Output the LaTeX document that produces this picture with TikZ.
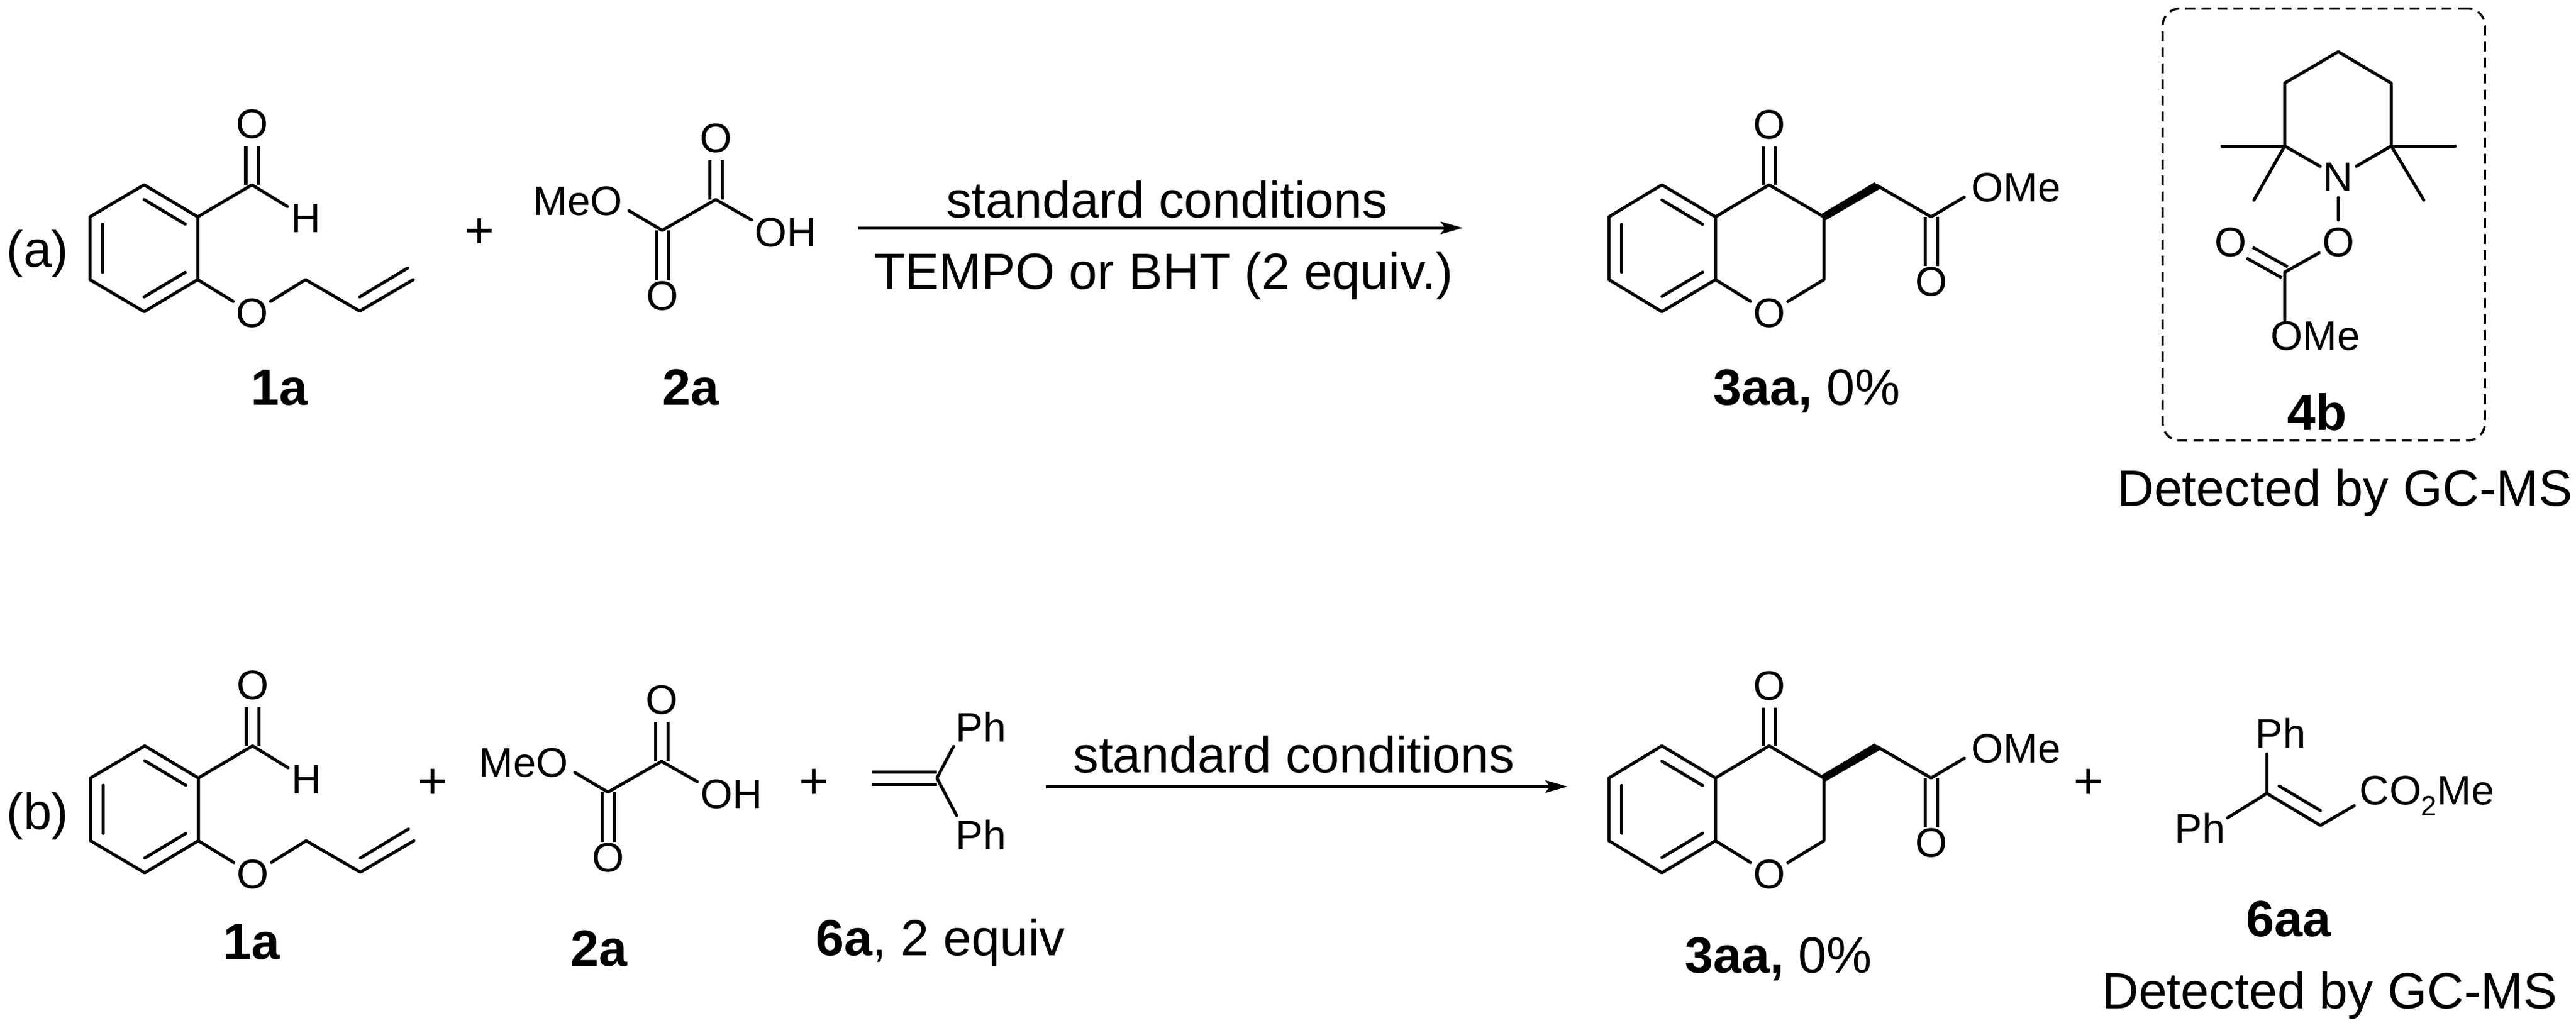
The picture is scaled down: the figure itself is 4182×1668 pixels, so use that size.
\documentclass[tikz,border=0pt]{standalone}
\usepackage{fontspec}
\setmainfont{Liberation Sans}
\usetikzlibrary{arrows.meta,calc}
\tikzset{
  bond/.style={line width=.05cm,line cap=round,line join=round},
  dbl/.style={line width=.05cm,double,double distance=.15cm},
  dblnear/.style={dbl,shorten >=-.11cm},
  atom/.style={circle,inner sep=0pt,minimum size=.7cm,font=\fontsize{19}{19}\selectfont},
  lab/.style={inner sep=0pt,font=\fontsize{19}{19}\selectfont},
  capt/.style={inner sep=0pt,anchor=base,font=\fontsize{23.5}{23.5}\selectfont},
  rxn/.style={line width=.05cm,-{Stealth[length=.36cm,width=.2cm,inset=.07cm]}},
  plus/.style={inner sep=0pt,font=\fontsize{23.5}{23.5}\selectfont}
}
% 2-allyloxybenzaldehyde
\newcommand{\aldehyde}{
  \coordinate (r1) at (234,300); \coordinate (r2) at (321,352); \coordinate (r3) at (321,454);
  \coordinate (r4) at (234,506); \coordinate (r5) at (146,454); \coordinate (r6) at (146,352);
  \coordinate (ctr) at (234,403);
  \coordinate (cho) at (409,300); \coordinate (ch2) at (496,454); \coordinate (vi1) at (584,505);
  \coordinate (vi2) at (671,454); \coordinate (in1) at (584,482); \coordinate (in2) at (662,435);
  \node[atom] (oald) at (409,201) {O};
  \node[atom] (hald) at (497,354) {H};
  \node[atom] (oeth) at (409,508) {O};
  \draw[dbl] (cho) -- (oald);
  \draw[bond] (r1) -- (r2) -- (r3) -- (r4) -- (r5) -- (r6) -- cycle;
  \draw[bond] ($(r1)!.233!(ctr)$) -- ($(r2)!.233!(ctr)$);
  \draw[bond] ($(r3)!.233!(ctr)$) -- ($(r4)!.233!(ctr)$);
  \draw[bond] ($(r5)!.233!(ctr)$) -- ($(r6)!.233!(ctr)$);
  \draw[bond] (r2) -- (cho) -- (hald);
  \draw[bond] (r3) -- (oeth) -- (ch2) -- (vi1) -- (vi2);
  \draw[bond] (in1) -- (in2);
}
% monomethyl oxalate
\newcommand{\oxalate}{
  \coordinate (c1) at (1075,374); \coordinate (c2) at (1162,324);
  \coordinate (meoend) at (1021,342); \coordinate (ohend) at (1220,357);
  \node[lab,anchor=east] (meo) at (1011,326) {MeO};
  \node[lab,anchor=west] (oh) at (1225,377) {OH};
  \node[atom] (o1) at (1075,480) {O};
  \node[atom] (o2) at (1162,224) {O};
  \draw[dblnear] (c1) -- (o1);
  \draw[dbl] (c2) -- (o2);
  \draw[bond] (meoend) -- (c1) -- (c2) -- (ohend);
}
% chromanone product
\newcommand{\chromanone}{
  \coordinate (r1) at (2698,300); \coordinate (r2) at (2785,352); \coordinate (r3) at (2785,454);
  \coordinate (r4) at (2698,506); \coordinate (r5) at (2612,454); \coordinate (r6) at (2612,352);
  \coordinate (ctr) at (2698,403);
  \coordinate (co) at (2872,300); \coordinate (c3) at (2961,352); \coordinate (c2) at (2961,454);
  \coordinate (ch2) at (3047,301); \coordinate (est) at (3135,352); \coordinate (omeend) at (3189,320);
  \coordinate (wa) at (3053,306); \coordinate (wb) at (3043,296);
  \coordinate (wc) at (2956,348); \coordinate (wd) at (2963,358);
  \node[atom] (ok) at (2872,202) {O};
  \node[atom] (or) at (2872,508) {O};
  \node[atom] (oe) at (3135,457) {O};
  \node[lab,anchor=west] (ome) at (3200,304) {OMe};
  \draw[dbl] (co) -- (ok);
  \draw[dblnear] (est) -- (oe);
  \draw[bond] (r1) -- (r2) -- (r3) -- (r4) -- (r5) -- (r6) -- cycle;
  \draw[bond] ($(r1)!.24!(ctr)$) -- ($(r2)!.24!(ctr)$);
  \draw[bond] ($(r3)!.24!(ctr)$) -- ($(r4)!.24!(ctr)$);
  \draw[bond] ($(r5)!.24!(ctr)$) -- ($(r6)!.24!(ctr)$);
  \draw[bond] (r2) -- (co) -- (c3) -- (c2) -- (or) -- (r3);
  \fill (wc) -- (wb) -- (wa) -- (wd) -- cycle;
  \draw[bond] (ch2) -- (est) -- (omeend);
}
\begin{document}
\begin{tikzpicture}[x=.01cm,y=-.01cm]
\useasboundingbox (0,0) rectangle (4182,1668);
\fill[white] (0,0) rectangle (4182,1668);

% ---------- (a)
\node[capt] (laba) at (61,433) {(a)};
\begin{scope}[name prefix=a1-]\aldehyde\end{scope}
\node[plus] (pa1) at (779,379) {+};
\begin{scope}[name prefix=a2-]\oxalate\end{scope}
\node[capt] (a1lab) at (454,657) {\textbf{1a}};
\node[capt] (a2lab) at (1122,657) {\textbf{2a}};
\coordinate (aS) at (1393,370); \coordinate (aE) at (2375,370);
\draw[rxn] (aS) -- (aE);
\node[capt] (acond1) at (1895,353) {standard conditions};
\node[capt] (acond2) at (1889,469) {TEMPO or BHT (2 equiv.)};
\begin{scope}[name prefix=a3-]\chromanone\end{scope}
\node[capt] (a3lab) at (2933,657) {\textbf{3aa,} 0\%};

% TEMPO carbonate in dashed box
\node[draw,dash pattern=on .16cm off .1cm,line width=.035cm,rounded corners=.28cm,inner sep=0pt,
  minimum width=5.23cm,minimum height=7.01cm] (box) at (3772.5,364.5) {};
\coordinate (t1) at (3796,84); \coordinate (t2) at (3882,135); \coordinate (t3) at (3882,237);
\coordinate (t5) at (3709,237); \coordinate (t6) at (3709,135);
\coordinate (m1) at (3607,237); \coordinate (m2) at (3659,325);
\coordinate (m3) at (3986,237); \coordinate (m4) at (3935,325);
\coordinate (cc) at (3709,442); \coordinate (ccme) at (3709,520);
\node[atom,minimum size=.66cm] (nn) at (3796,287) {N};
\node[atom] (on) at (3796,393) {O};
\node[atom] (oc) at (3621,393) {O};
\node[lab,anchor=west] (ome4) at (3686,545) {OMe};
\draw[dbl] (cc) -- (oc);
\draw[bond] (nn) -- (t3) -- (t2) -- (t1) -- (t6) -- (t5) -- (nn);
\draw[bond] (t5) -- (m1); \draw[bond] (t5) -- (m2);
\draw[bond] (t3) -- (m3); \draw[bond] (t3) -- (m4);
\draw[bond] (nn) -- (on) -- (cc) -- (ccme);
\node[capt] (lab4b) at (3762,698) {\textbf{4b}};
\node[capt] (det1) at (3807,821) {Detected by GC-MS};

% ---------- (b)
\node[capt] (labb) at (61,1346) {(b)};
\begin{scope}[shift={(1,911)},name prefix=b1-]\aldehyde\end{scope}
\node[plus] (pb1) at (703,1273) {+};
\begin{scope}[shift={(-88,912)},name prefix=b2-]\oxalate\end{scope}
\node[plus] (pb2) at (1322,1273) {+};
\coordinate (e1) at (1521,1263); \coordinate (e2) at (1415,1263);
\coordinate (phu) at (1548,1212); \coordinate (phd) at (1553,1324);
\node[lab,anchor=west] (ph1) at (1551,1180) {Ph};
\node[lab,anchor=west] (ph2) at (1551,1355) {Ph};
\draw[dbl] (e1) -- (e2);
\draw[bond] (phu) -- (e1) -- (phd);
\node[capt] (b1lab) at (409,1557) {\textbf{1a}};
\node[capt] (b2lab) at (973,1568) {\textbf{2a}};
\node[capt] (b6lab) at (1527,1551) {\textbf{6a}, 2 equiv};
\coordinate (bS) at (1698,1277); \coordinate (bE) at (2545,1277);
\draw[rxn] (bS) -- (bE);
\node[capt] (bcond) at (2101,1254) {standard conditions};
\begin{scope}[shift={(0,911)},name prefix=b3-]\chromanone\end{scope}
\node[capt] (b3lab) at (2887,1579) {\textbf{3aa,} 0\%};
\node[plus] (pb3) at (3391,1273) {+};
\coordinate (d1) at (3680,1288); \coordinate (d2) at (3767,1340);
\coordinate (dphu) at (3680,1224); \coordinate (dphl) at (3616,1328); \coordinate (dest) at (3822,1308);
\coordinate (din1) at (3700,1276); \coordinate (din2) at (3767,1316);
\node[lab,anchor=west] (dph1) at (3661,1190) {Ph};
\node[lab,anchor=west] (dph2) at (3530,1344) {Ph};
\node[lab,anchor=west] (dco) at (3830,1292) {CO\raisebox{-.28em}{\fontsize{13}{13}\selectfont 2}Me};
\draw[bond] (dphu) -- (d1) -- (d2) -- (dest);
\draw[bond] (dphl) -- (d1);
\draw[bond] (din1) -- (din2);
\node[capt] (b6aa) at (3716,1520) {\textbf{6aa}};
\node[capt] (det2) at (3782,1637) {Detected by GC-MS};
\end{tikzpicture}
\end{document}
